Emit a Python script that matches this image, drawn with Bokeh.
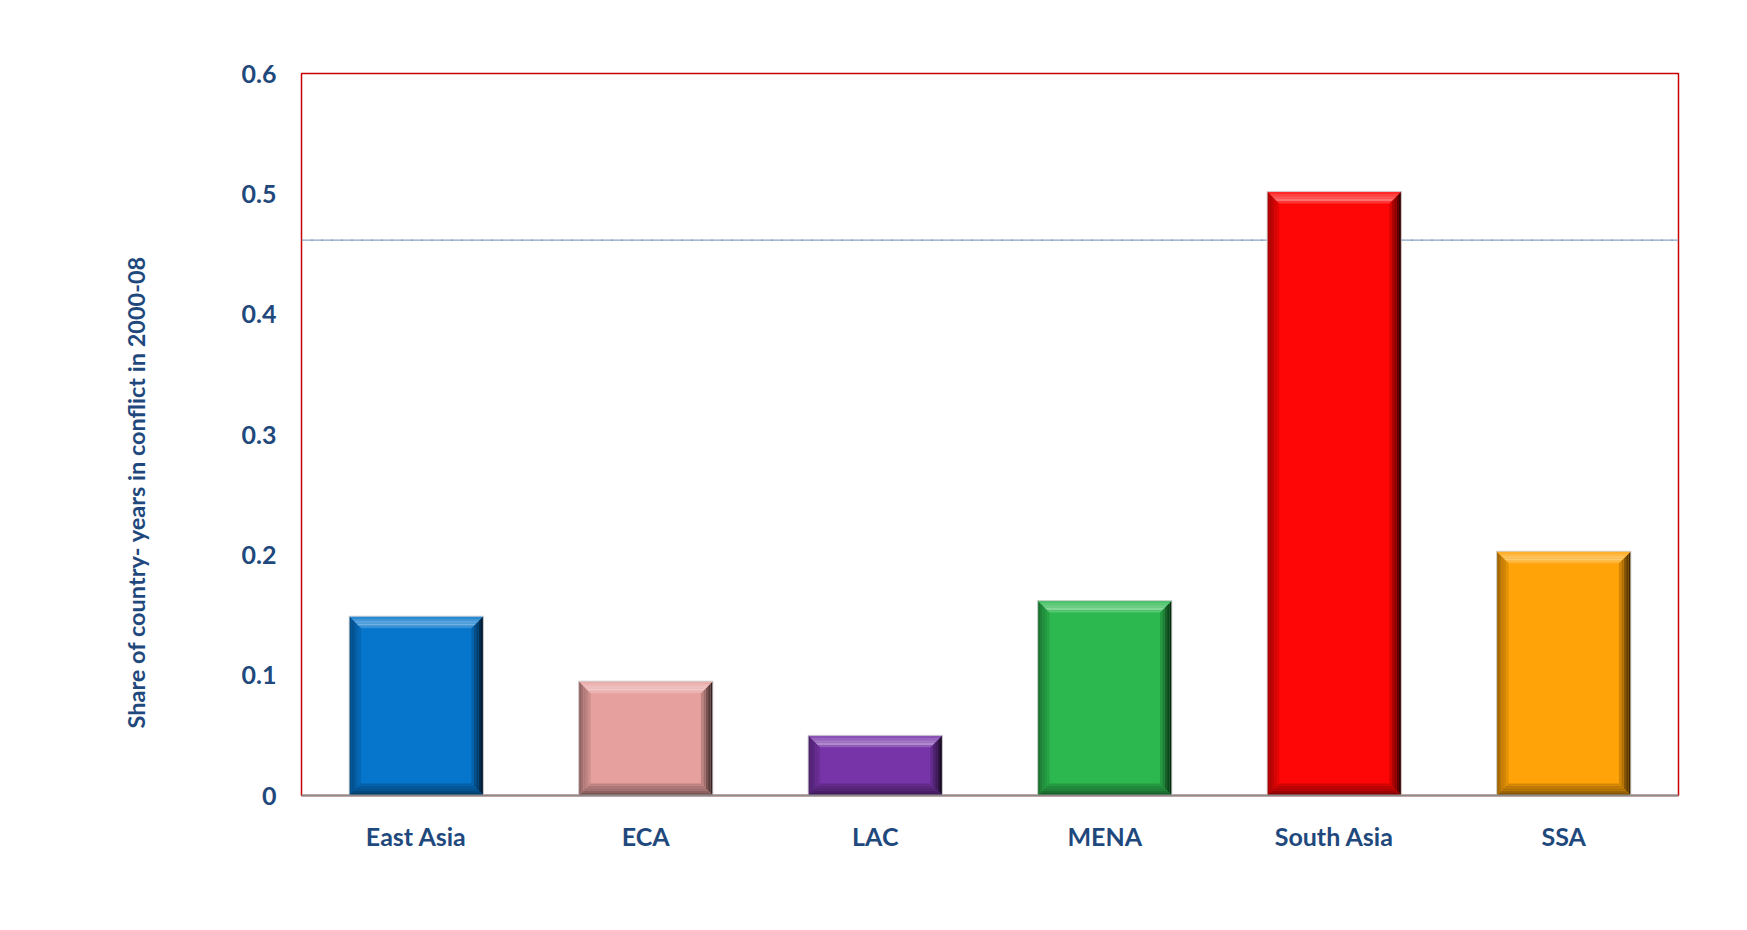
from bokeh.plotting import figure
from bokeh.models import Range1d, FixedTicker, Span, Title
from bokeh.embed import file_html
from bokeh.resources import INLINE

# ---- data ----
categories = ["East Asia", "ECA", "LAC", "MENA", "South Asia", "SSA"]
values = [0.149, 0.095, 0.050, 0.162, 0.502, 0.203]
bar_colors = ["#0675CC", "#E6A09E", "#7734A8", "#2CB84F", "#FE0606", "#FFA308"]
y_ticks = [0, 0.1, 0.2, 0.3, 0.4, 0.5, 0.6]
y_tick_labels = ["0", "0.1", "0.2", "0.3", "0.4", "0.5", "0.6"]
y_title = "Share of country- years in conflict in 2000-08"

TEXT = "#1F497D"
FONT = "Lato"
FS = "25px"

W, H = 1731, 914
p = figure(width=W, height=H, output_backend="svg", toolbar_location=None,
           x_range=Range1d(0, 6), y_range=Range1d(0, 0.6),
           min_border_left=301, min_border_right=53,
           min_border_top=73, min_border_bottom=119)
p.grid.visible = False
p.background_fill_color = "white"
p.border_fill_color = "white"
p.outline_line_color = "#C80000"
p.outline_line_width = 1.5

# horizontal guide line (behind bars)
p.add_layout(Span(location=0.4616, dimension="width", line_color="#8BA4C7",
                  line_width=1.2, level="underlay"))
p.add_layout(Span(location=0.4616, dimension="width", line_color="#5F7FA8",
                  line_width=1.2, line_dash="1 9", level="underlay"))


def mix(c, other, k):
    c = c.lstrip("#")
    r, g, b = int(c[0:2], 16), int(c[2:4], 16), int(c[4:6], 16)
    o = 255 if other == "white" else 0
    r = round(r + (o - r) * k)
    g = round(g + (o - g) * k)
    b = round(b + (o - b) * k)
    return "#%02x%02x%02x" % (max(0, min(255, r)), max(0, min(255, g)), max(0, min(255, b)))


bw = 0.585
bx = 0.052
by = 0.0100
N = 5

lefts = [i + 0.5 - bw / 2 for i in range(len(categories))]
rights = [i + 0.5 + bw / 2 for i in range(len(categories))]

p.quad(left=lefts, right=rights, bottom=0, top=values, fill_color=bar_colors, line_color=None)

xs, ys, cols = [], [], []
for L, R, T, c in zip(lefts, rights, values, bar_colors):
    for s in range(N):
        t0, t1 = s / N, (s + 1) / N
        tm = (t0 + t1) / 2
        # right side: dark gradient
        xs.append([R - t0 * bx, R - t0 * bx, R - t1 * bx, R - t1 * bx])
        ys.append([t0 * by, T - t0 * by, T - t1 * by, t1 * by])
        cols.append(mix(c, "black", 0.85 - 0.75 * tm))
        # left side
        xs.append([L + t0 * bx, L + t0 * bx, L + t1 * bx, L + t1 * bx])
        ys.append([t0 * by, T - t0 * by, T - t1 * by, t1 * by])
        cols.append(mix(c, "black", 0.40 - 0.32 * tm))
        # bottom
        xs.append([L + t0 * bx, R - t0 * bx, R - t1 * bx, L + t1 * bx])
        ys.append([t0 * by, t0 * by, t1 * by, t1 * by])
        cols.append(mix(c, "black", 0.50 - 0.35 * tm))
        # top: highlight
        xs.append([L + t0 * bx, R - t0 * bx, R - t1 * bx, L + t1 * bx])
        ys.append([T - t0 * by, T - t0 * by, T - t1 * by, T - t1 * by])
        w = 0.10 + 0.32 * (tm / 0.7) if tm < 0.7 else 0.42 - 0.34 * ((tm - 0.7) / 0.3)
        cols.append(mix(c, "white", w))

p.patches(xs, ys, fill_color=cols, line_color=None)
p.quad(left=lefts, right=rights, bottom=0, top=values, fill_color=None,
       line_color="#D2D2D2", line_width=1)

# axes
p.yaxis.ticker = FixedTicker(ticks=y_ticks)
p.yaxis.major_label_overrides = {t: l for t, l in zip(y_ticks, y_tick_labels)}
p.yaxis.axis_line_color = None
p.yaxis.major_tick_line_color = None
p.yaxis.minor_tick_line_color = None
p.yaxis.major_tick_out = 0
p.yaxis.major_label_standoff = 25
p.yaxis.major_label_text_font = FONT
p.yaxis.major_label_text_font_style = "bold"
p.yaxis.major_label_text_font_size = FS
p.yaxis.major_label_text_color = TEXT

x_ticks = [i + 0.5 for i in range(len(categories))]
p.xaxis.ticker = FixedTicker(ticks=x_ticks)
p.xaxis.major_label_overrides = {t: c for t, c in zip(x_ticks, categories)}
p.xaxis.axis_line_color = "#8C8C8C"
p.xaxis.axis_line_width = 2
p.xaxis.major_tick_line_color = None
p.xaxis.minor_tick_line_color = None
p.xaxis.major_tick_out = 0
p.xaxis.major_label_standoff = 25
p.xaxis.major_label_text_font = FONT
p.xaxis.major_label_text_font_style = "bold"
p.xaxis.major_label_text_font_size = FS
p.xaxis.major_label_text_color = TEXT

p.add_layout(Title(text=y_title, align="left", offset=67, standoff=177,
                   text_font=FONT, text_font_style="bold", text_font_size="23.5px",
                   text_color=TEXT), "left")

open("out.html", "w").write(file_html(p, INLINE))
